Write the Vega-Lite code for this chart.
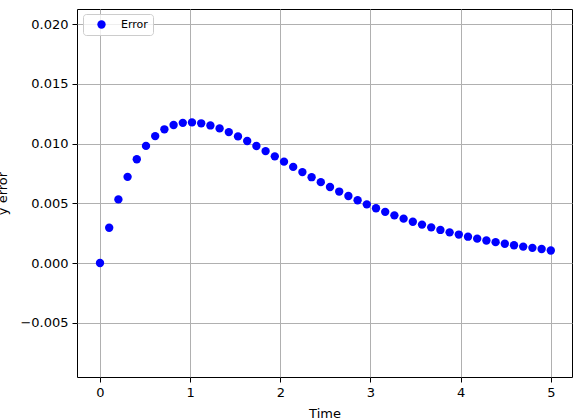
{
  "$schema": "https://vega.github.io/schema/vega-lite/v6.json",
  "width": 495,
  "height": 368,
  "autosize": {"type": "none"},
  "padding": {"left": 77, "top": 9, "right": 10, "bottom": 43},
  "background": "white",
  "config": {
    "font": "DejaVu Sans",
    "view": {"stroke": "black", "strokeWidth": 1},
    "axis": {
      "labelFont": "DejaVu Sans",
      "titleFont": "DejaVu Sans",
      "labelFontSize": 13,
      "titleFontSize": 13,
      "labelColor": "black",
      "titleColor": "black",
      "titleFontWeight": "normal",
      "domain": false,
      "tickColor": "black",
      "tickSize": 5,
      "tickWidth": 1,
      "labelPadding": 4,
      "gridColor": "#b0b0b0",
      "gridWidth": 1,
      "gridOpacity": 1
    }
  },
  "data": {"values": [
    {"t": 0.0, "err": 0.0, "s": "Error"},
    {"t": 0.10204, "err": 0.002949, "s": "Error"},
    {"t": 0.20408, "err": 0.005325, "s": "Error"},
    {"t": 0.30612, "err": 0.007213, "s": "Error"},
    {"t": 0.40816, "err": 0.008684, "s": "Error"},
    {"t": 0.5102, "err": 0.009802, "s": "Error"},
    {"t": 0.61224, "err": 0.010621, "s": "Error"},
    {"t": 0.71429, "err": 0.01119, "s": "Error"},
    {"t": 0.81633, "err": 0.011548, "s": "Error"},
    {"t": 0.91837, "err": 0.011731, "s": "Error"},
    {"t": 1.02041, "err": 0.01177, "s": "Error"},
    {"t": 1.12245, "err": 0.011691, "s": "Error"},
    {"t": 1.22449, "err": 0.011516, "s": "Error"},
    {"t": 1.32653, "err": 0.011266, "s": "Error"},
    {"t": 1.42857, "err": 0.010956, "s": "Error"},
    {"t": 1.53061, "err": 0.010599, "s": "Error"},
    {"t": 1.63265, "err": 0.010209, "s": "Error"},
    {"t": 1.73469, "err": 0.009795, "s": "Error"},
    {"t": 1.83673, "err": 0.009365, "s": "Error"},
    {"t": 1.93878, "err": 0.008926, "s": "Error"},
    {"t": 2.04082, "err": 0.008485, "s": "Error"},
    {"t": 2.14286, "err": 0.008045, "s": "Error"},
    {"t": 2.2449, "err": 0.00761, "s": "Error"},
    {"t": 2.34694, "err": 0.007184, "s": "Error"},
    {"t": 2.44898, "err": 0.006769, "s": "Error"},
    {"t": 2.55102, "err": 0.006367, "s": "Error"},
    {"t": 2.65306, "err": 0.00598, "s": "Error"},
    {"t": 2.7551, "err": 0.005607, "s": "Error"},
    {"t": 2.85714, "err": 0.005251, "s": "Error"},
    {"t": 2.95918, "err": 0.004911, "s": "Error"},
    {"t": 3.06122, "err": 0.004587, "s": "Error"},
    {"t": 3.16327, "err": 0.004281, "s": "Error"},
    {"t": 3.26531, "err": 0.00399, "s": "Error"},
    {"t": 3.36735, "err": 0.003715, "s": "Error"},
    {"t": 3.46939, "err": 0.003457, "s": "Error"},
    {"t": 3.57143, "err": 0.003214, "s": "Error"},
    {"t": 3.67347, "err": 0.002985, "s": "Error"},
    {"t": 3.77551, "err": 0.00277, "s": "Error"},
    {"t": 3.87755, "err": 0.002568, "s": "Error"},
    {"t": 3.97959, "err": 0.00238, "s": "Error"},
    {"t": 4.08163, "err": 0.002205, "s": "Error"},
    {"t": 4.18367, "err": 0.00204, "s": "Error"},
    {"t": 4.28571, "err": 0.001887, "s": "Error"},
    {"t": 4.38776, "err": 0.001745, "s": "Error"},
    {"t": 4.4898, "err": 0.001612, "s": "Error"},
    {"t": 4.59184, "err": 0.001488, "s": "Error"},
    {"t": 4.69388, "err": 0.001374, "s": "Error"},
    {"t": 4.79592, "err": 0.001268, "s": "Error"},
    {"t": 4.89796, "err": 0.001169, "s": "Error"},
    {"t": 5.0, "err": 0.00105, "s": "Error"}
  ]},
  "mark": {"type": "point", "filled": true, "shape": "circle", "size": 70, "opacity": 1},
  "encoding": {
    "x": {
      "field": "t", "type": "quantitative", "title": "Time",
      "scale": {"domain": [-0.255, 5.235], "nice": false, "zero": false},
      "axis": {"values": [0, 1, 2, 3, 4, 5], "format": "d", "titlePadding": 8}
    },
    "y": {
      "field": "err", "type": "quantitative", "title": "y error",
      "scale": {"domain": [-0.00954, 0.02126], "nice": false, "zero": false},
      "axis": {"values": [-0.005, 0, 0.005, 0.01, 0.015, 0.02], "format": ".3f", "titlePadding": 10}
    },
    "color": {
      "field": "s", "type": "nominal", "title": null,
      "scale": {"range": ["#0000ff"]},
      "legend": {
        "orient": "none", "legendX": 6, "legendY": 5,
        "padding": 5, "symbolOffset": 8, "labelOffset": 14,
        "fillColor": "rgba(255,255,255,0.8)", "strokeColor": "#cccccc", "cornerRadius": 3,
        "labelFont": "DejaVu Sans", "labelFontSize": 11, "labelColor": "black",
        "symbolSize": 70, "symbolType": "circle"
      }
    }
  }
}
